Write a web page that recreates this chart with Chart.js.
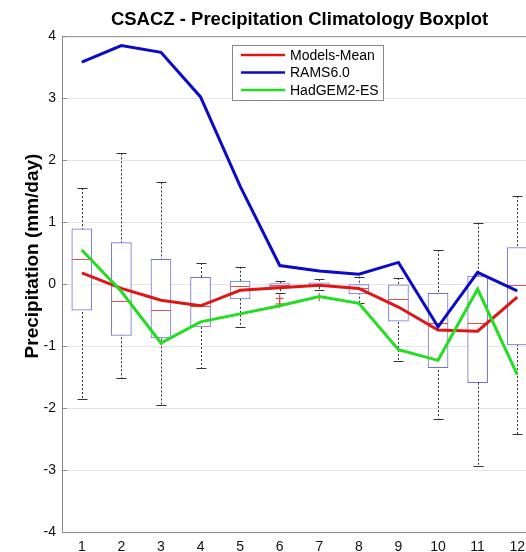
<!DOCTYPE html>
<html>
<head>
<meta charset="utf-8">
<script src="https://cdn.jsdelivr.net/npm/chart.js@4/dist/chart.umd.min.js"></script>
<style>
html, body { margin: 0; padding: 0; background: #fff; overflow: hidden; }
#wrap { width: 560px; height: 552px; }
</style>
</head>
<body>
<div id="wrap"><canvas id="chart" width="560" height="552"></canvas></div>
<script>
// monthly precipitation anomaly (mm/day), CSACZ region
let months = [1, 2, 3, 4, 5, 6, 7, 8, 9, 10, 11, 12]

// boxplot statistics of the model ensemble
let whiskerLow = [-1.86, -1.52, -1.95, -1.35, -0.69, -0.14, -0.10, -0.31, -1.24, -2.17, -2.94, -2.42]
let q1 = [-0.42, -0.83, -0.87, -0.69, -0.24, -0.05, -0.04, -0.16, -0.60, -1.35, -1.59, -0.98]
let median = [0.40, -0.27, -0.41, -0.35, -0.03, -0.02, -0.01, -0.07, -0.24, -0.63, -0.63, -0.02]
let q3 = [0.89, 0.67, 0.40, 0.11, 0.05, 0.01, 0.02, 0.00, -0.01, -0.15, 0.13, 0.59]
let whiskerHigh = [1.55, 2.11, 1.64, 0.34, 0.28, 0.05, 0.08, 0.12, 0.10, 0.55, 0.99, 1.42]
let outliers = [{x: 6, y: -0.23}, {x: 6, y: -0.32}, {x: 7, y: -0.21}]

// individual series
let modelsMean = [0.18, -0.07, -0.26, -0.35, -0.10, -0.06, -0.02, -0.07, -0.37, -0.74, -0.76, -0.21]
let rams = [3.58, 3.85, 3.74, 3.02, 1.58, 0.30, 0.21, 0.16, 0.35, -0.69, 0.19, -0.11]
let hadgem = [0.55, -0.12, -0.95, -0.61, -0.48, -0.35, -0.20, -0.31, -1.06, -1.23, -0.08, -1.46]

let yTicks = [-4, -3, -2, -1, 0, 1, 2, 3, 4]

const FONT = "'Liberation Sans', Arial, sans-serif"

function series(values) {
    return values.map((v, i) => ({x: months[i], y: v}))
}

const boxPlot = {
    id: 'boxPlot',
    beforeDatasetsDraw(chart) {
        // dotted whiskers with caps, sitting behind the boxes
        const {ctx, scales: {x, y}} = chart
        ctx.save()
        ctx.strokeStyle = '#333'
        ctx.lineWidth = 1
        months.forEach((m, i) => {
            const px = Math.round(x.getPixelForValue(m)) + 0.5
            ctx.setLineDash([2, 2])
            ctx.beginPath()
            ctx.moveTo(px, y.getPixelForValue(whiskerHigh[i]))
            ctx.lineTo(px, y.getPixelForValue(whiskerLow[i]))
            ctx.stroke()
            ctx.setLineDash([])
            for (const v of [whiskerHigh[i], whiskerLow[i]]) {
                const py = Math.round(y.getPixelForValue(v)) + 0.5
                ctx.beginPath()
                ctx.moveTo(px - 5, py)
                ctx.lineTo(px + 5, py)
                ctx.stroke()
            }
        })
        ctx.restore()
    },
    afterDatasetDraw(chart, args) {
        if (args.index !== 0) return
        // median marks on top of the boxes
        const {ctx, scales: {x, y}} = chart
        ctx.save()
        ctx.strokeStyle = '#e05050'
        ctx.lineWidth = 1
        months.forEach((m, i) => {
            const px = x.getPixelForValue(m)
            const py = Math.round(y.getPixelForValue(median[i])) + 0.5
            ctx.beginPath()
            ctx.moveTo(px - 10, py)
            ctx.lineTo(px + 10, py)
            ctx.stroke()
        })
        ctx.restore()
    },
    afterDraw(chart) {
        const {ctx, chartArea: area, scales: {y}} = chart
        ctx.save()

        // top frame line and inward y ticks
        ctx.strokeStyle = '#8a8a8a'
        ctx.lineWidth = 1
        ctx.beginPath()
        ctx.moveTo(area.left, area.top + 0.5)
        ctx.lineTo(area.right, area.top + 0.5)
        yTicks.forEach(v => {
            const py = Math.round(y.getPixelForValue(v)) + 0.5
            ctx.moveTo(area.left, py)
            ctx.lineTo(area.left + 5, py)
        })
        ctx.stroke()

        // y axis title
        ctx.fillStyle = '#000'
        ctx.font = 'bold 19px ' + FONT
        ctx.textAlign = 'center'
        ctx.textBaseline = 'middle'
        ctx.translate(33, 256)
        ctx.rotate(-Math.PI / 2)
        ctx.fillText('Precipitation (mm/day)', 0, 0)
        ctx.setTransform(1, 0, 0, 1, 0, 0)

        // legend box
        const lx = 232.5, ly = 45.5, lw = 151, lh = 55
        ctx.fillStyle = '#fff'
        ctx.fillRect(lx, ly, lw, lh)
        ctx.strokeStyle = '#888'
        ctx.strokeRect(lx, ly, lw, lh)
        ctx.font = '14px ' + FONT
        ctx.textAlign = 'left'
        const lines = chart.data.datasets.filter(d => d.type === 'line')
        lines.forEach((d, i) => {
            const ty = 55 + i * 17.5
            ctx.strokeStyle = d.borderColor
            ctx.lineWidth = 2.5
            ctx.beginPath()
            ctx.moveTo(241, ty)
            ctx.lineTo(285, ty)
            ctx.stroke()
            ctx.fillStyle = '#000'
            ctx.fillText(d.label, 290, ty + 1)
        })
        ctx.restore()
    }
}

let ctx = document.querySelector('#chart')

let chart = new Chart(ctx, {
    type: 'bar',
    data: {
        datasets: [{
            type: 'bar',
            label: 'Boxes',
            data: months.map((m, i) => ({x: m, y: [q1[i], q3[i]]})),
            backgroundColor: '#fff',
            borderColor: '#7070d0',
            borderWidth: 1,
            borderSkipped: false,
            barThickness: 20,
            order: 10
        }, {
            type: 'scatter',
            label: 'Outliers',
            data: outliers,
            pointStyle: 'cross',
            radius: 4,
            borderColor: '#e03030',
            borderWidth: 1,
            order: 5
        }, {
            type: 'line',
            label: 'Models-Mean',
            data: series(modelsMean),
            borderColor: '#e01515',
            borderWidth: 3,
            pointRadius: 0,
            tension: 0,
            order: 3
        }, {
            type: 'line',
            label: 'RAMS6.0',
            data: series(rams),
            borderColor: '#0a0ac8',
            borderWidth: 3,
            pointRadius: 0,
            tension: 0,
            order: 2
        }, {
            type: 'line',
            label: 'HadGEM2-ES',
            data: series(hadgem),
            borderColor: '#22dd22',
            borderWidth: 3,
            pointRadius: 0,
            tension: 0,
            order: 1
        }]
    },
    options: {
        responsive: false,
        animation: false,
        devicePixelRatio: 1,
        layout: {padding: {left: 0, right: 23, top: 0, bottom: 0}},
        plugins: {
            legend: {display: false},
            tooltip: {enabled: false},
            title: {
                display: true,
                fullSize: false,
                text: 'CSACZ - Precipitation Climatology Boxplot',
                color: '#000',
                font: {family: FONT, size: 18.5, weight: 'bold'},
                padding: {top: 9, bottom: 5}
            }
        },
        scales: {
            x: {
                type: 'linear',
                min: 0.5,
                max: 12.5,
                offset: false,
                grid: {display: false, offset: false},
                border: {color: '#8a8a8a'},
                ticks: {color: '#111', font: {family: FONT, size: 14}, padding: -1},
                afterBuildTicks: s => { s.ticks = months.map(v => ({value: v})) },
                afterFit: s => { s.height = 20 }
            },
            y: {
                min: -4,
                max: 4,
                grid: {color: '#e4e4e4', drawTicks: false},
                border: {color: '#8a8a8a'},
                ticks: {color: '#111', font: {family: FONT, size: 14}, padding: 6, stepSize: 1},
                afterBuildTicks: s => { s.ticks = yTicks.map(v => ({value: v})) },
                afterFit: s => { s.width = 62 }
            }
        }
    },
    plugins: [boxPlot]
})
</script>
</body>
</html>
